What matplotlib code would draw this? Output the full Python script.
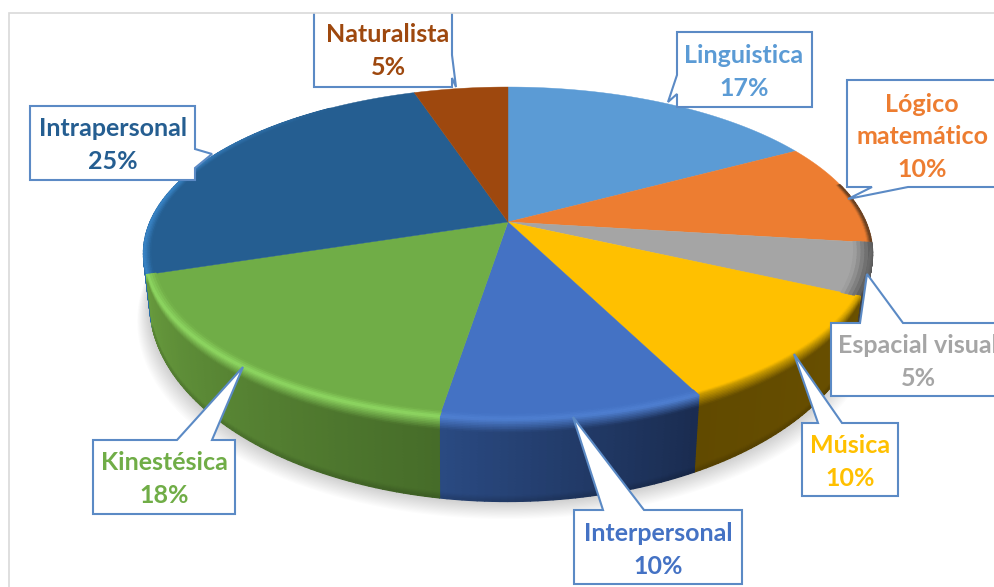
import numpy as np
import matplotlib
matplotlib.use("Agg")
import matplotlib.pyplot as plt
from matplotlib.collections import PolyCollection
from matplotlib.colors import to_rgb
from matplotlib.patches import Polygon

# ---- data ----
categories = ["Linguistica", "Lógico\nmatemático", "Espacial visual", "Música",
              "Interpersonal", "Kinestésica", "Intrapersonal", "Naturalista"]
percent_labels = ["17%", "10%", "5%", "10%", "10%", "18%", "25%", "5%"]
# slice shares as drawn (the printed labels are rounded)
slice_shares = [17, 10, 5, 10.7, 9.8, 17.5, 25, 5]
colors = ["#5B9BD5", "#ED7D31", "#A5A5A5", "#FFC000",
          "#4472C4", "#70AD47", "#255E91", "#9E480E"]

W, H = 995, 587
fig = plt.figure(figsize=(W / 100, H / 100), dpi=100)
ax = fig.add_axes([0, 0, 1, 1])
ax.set_xlim(0, W)
ax.set_ylim(H, 0)
ax.axis("off")

# perspective of the pie
CX, CY, A, B, K = 508.0, 222.0, 358.0, 160.5, 0.189


def top_xy(th, r=1.0):
    X, Y = r * np.sin(th), r * np.cos(th)
    w = 1 + K * Y
    return CX + A * X / w, CY - B * Y / w


def bot_xy(th):
    x, y = top_xy(th)
    return 507 + 0.98 * (x - CX), 266 + 1.19 * (y - CY)


def pt(th, u):
    """u<=0: on the top face at radius 1+u; u>0: down the wall."""
    if u <= 0:
        return top_xy(th, 1 + u)
    x0, y0 = top_xy(th)
    x1, y1 = bot_xy(th)
    return x0 + (x1 - x0) * u, y0 + (y1 - y0) * u


def c(h):
    return np.array(to_rgb(h))


def strip(th0, th1, stops, wall=None, z=2):
    """stops: list of (u, colour, factor); colour 'W' takes the wall gradient."""
    ths = np.linspace(th0, th1, max(8, int(abs(th1 - th0) * 60)))
    polys, cols = [], []
    for a, b in zip(stops[:-1], stops[1:]):
        n = max(2, int(abs(b[0] - a[0]) * 25) + 5)
        us = np.linspace(a[0], b[0], n)
        ts = np.linspace(0, 1, n)
        for i in range(n - 1):
            for j in range(len(ths) - 1):
                t0, t1 = ths[j], ths[j + 1]
                p = [pt(t0, us[i]), pt(t1, us[i]), pt(t1, us[i + 1]), pt(t0, us[i + 1])]
                f = (j + .5) / (len(ths) - 1)
                wc = (wall[0] * (1 - f) + wall[1] * f) if wall is not None else None
                ca = wc * a[2] if a[1] == "W" else c(a[1])
                cb = wc * b[2] if b[1] == "W" else c(b[1])
                tm = (ts[i] + ts[i + 1]) / 2
                polys.append(p)
                cols.append(ca * (1 - tm) + cb * tm)
    ax.add_collection(PolyCollection(polys, facecolors=cols, edgecolors=cols,
                                     linewidths=0.9, zorder=z))


shares = np.asarray(slice_shares, dtype=float)
edges = np.concatenate([[0], np.cumsum(shares)]) / shares.sum() * 2 * np.pi
ang = list(zip(edges[:-1], edges[1:]))

# soft shadow below the pie
tt = np.linspace(np.deg2rad(90), np.deg2rad(290), 200)
bx, by = bot_xy(tt)
for i in range(16, 0, -1):
    sx = 507 + (bx - 507) * (1 + i * 0.0022)
    sy = by + i * 1.1
    ax.add_patch(Polygon(np.c_[sx, sy], closed=True, fc="#000000", ec="none",
                         alpha=0.011, zorder=1))

# back wall of Intrapersonal (thin strip on the left)
strip(ang[6][0], ang[6][0] + 0.6, [(0, "W", 1.0), (1, "W", 1.0)],
      wall=(c("#2A6DA8"), c("#2A6DA8")), z=2)

# flat top faces
for (t0, t1), col in zip(ang, colors):
    th = np.linspace(t0, t1, 120)
    x, y = top_xy(th)
    xy = np.r_[[[CX, CY]], np.c_[x, y]]
    ax.add_patch(Polygon(xy, closed=True, fc=col, ec=col, lw=0.3, zorder=3))

# rim shading around the silhouette
th = np.linspace(ang[6][0], np.deg2rad(325), 90)
polys, cols = [], []
for j in range(len(th) - 1):
    fade = np.clip((np.deg2rad(325) - th[j]) / np.deg2rad(45), 0, 1)
    rs = np.linspace(0.98, 1.0, 6)
    for i in range(5):
        polys.append([top_xy(th[j], rs[i]), top_xy(th[j + 1], rs[i]),
                      top_xy(th[j + 1], rs[i + 1]), top_xy(th[j], rs[i + 1])])
        f = (i + .5) / 5 * fade
        cols.append(c("#255E91") * (1 - f) + c("#3A86C8") * f)
ax.add_collection(PolyCollection(polys, facecolors=cols, edgecolors=cols,
                                 linewidths=0.6, zorder=4))
strip(np.deg2rad(76), ang[1][1], [(-0.012, colors[1], 1), (0, "#5A3A20", 1)], z=4)

# front walls with bevel: (slice, highlight colour, wall colours, bevel start)
fronts = [
    (2, "#5A5A5A", "#6A6A6A", "#3C3C3C", -0.05),
    (3, "#C89A00", "#6A5000", "#614A00", -0.012),
    (4, "#4F80D2", "#1A2C50", "#2A4A82", -0.025),
    (5, "#8FD862", "#466C29", "#679A3D", -0.025),
]
for idx, hi, w0, w1, inner in fronts:
    t0, t1 = ang[idx]
    strip(t0, t1, [(inner, colors[idx], 1), (0, hi, 1), (0.16, "W", 1.0),
                   (0.93, "W", 1.0), (1.0, "W", 0.85)], wall=(c(w0), c(w1)), z=5)

# callouts: box, tail and text all in picture pixels
boxes = [
    (677, 812, 32, 107),
    (847, 1010, 80, 187),
    (831, 1010, 323, 396),
    (802, 898, 423, 496),
    (574, 742, 510, 584),
    (93, 235, 440, 514),
    (30, 195, 106, 180),
    (314, 452, 5, 87),
]
tails = [
    ("L", (677, 75), (668, 102), (677, 94)),
    ("B", (908, 187), (848, 199), (872, 187)),
    ("T", (860, 323), (867, 274), (903, 323)),
    ("T", (818, 423), (794, 354), (842, 423)),
    ("T", (603, 510), (573, 417), (644, 510)),
    ("T", (177, 440), (243, 367), (212, 440)),
    ("R", (195, 149), (212, 154), (195, 168)),
    ("R", (452, 55), (456, 87), (452, 78)),
]
text_xy = [(744, 72), (922, 137), (918, 362), (850, 462),
           (658, 550), (164, 479), (113, 145), (388, 51)]

for cat, pct, col, (l, r, t, b), (side, p0, tip, p1), (tx, ty) in zip(
        categories, percent_labels, colors, boxes, tails, text_xy):
    a_, b_ = sorted([p0, p1], key=lambda q: q[0] if side in "TB" else q[1])
    if side == "T":
        v = [(l, t), a_, tip, b_, (r, t), (r, b), (l, b)]
    elif side == "B":
        v = [(l, t), (r, t), (r, b), b_, tip, a_, (l, b)]
    elif side == "L":
        v = [(l, t), (r, t), (r, b), (l, b), b_, tip, a_]
    else:
        v = [(l, t), (r, t), a_, tip, b_, (r, b), (l, b)]
    ax.add_patch(Polygon(v, closed=True, fc="white", ec="#5B8AC5", lw=1.5,
                         joinstyle="miter", zorder=8))
    ax.text(tx, ty, f"{cat}\n{pct}", color=col, ha="center", va="center",
            fontsize=18.0, fontweight="bold", family="Lato", linespacing=1.52,
            zorder=9, clip_on=False)

# outer frame and the white band that crops the top of the picture
ax.add_patch(Polygon([(0, 0), (W, 0), (W, 13), (0, 13)], closed=True, fc="white",
                     ec="none", zorder=10))
ax.add_patch(Polygon([(0, 0), (9, 0), (9, H), (0, H)], closed=True, fc="white",
                     ec="none", zorder=10))
ax.plot([9, 9, W], [H, 13, 13], color="#D9D9D9", lw=1.2, zorder=11,
        solid_joinstyle="miter")

fig.savefig("out.png", dpi=100, facecolor="white")
